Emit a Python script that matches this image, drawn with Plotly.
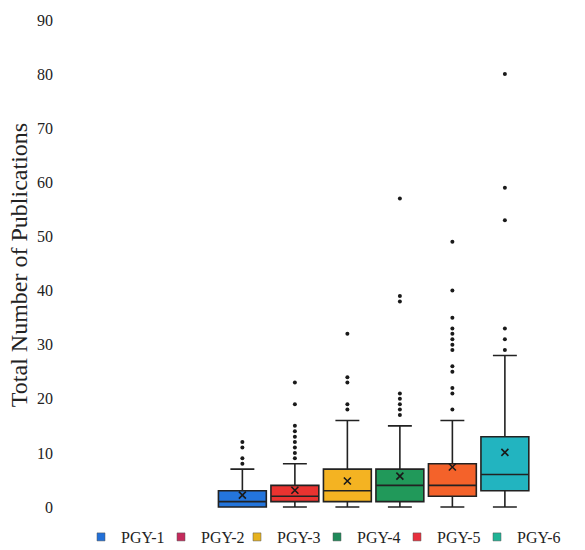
import plotly.graph_objects as go

groups = ["PGY-1", "PGY-2", "PGY-3", "PGY-4", "PGY-5", "PGY-6"]
q1 = [0, 1, 1, 1, 2, 3]
median = [1, 2, 3, 4, 4, 6]
q3 = [3, 4, 7, 7, 8, 13]
lower = [0, 0, 0, 0, 0, 0]
upper = [7, 8, 16, 15, 16, 28]
means = [2.2, 3.1, 4.8, 5.7, 7.4, 10.1]
outliers = [
    [8, 9, 11, 12],
    [9, 10, 11, 12, 13, 14, 15, 19, 23],
    [18, 19, 23, 24, 32],
    [17, 18, 19, 20, 21, 38, 39, 57],
    [18, 21, 22, 25, 26, 29, 30, 31, 32, 33, 35, 40, 49],
    [29, 31, 33, 53, 59, 80],
]
box_colors = ["#2475dc", "#ea3330", "#f4b322", "#21995a", "#f4622a", "#22b4c0"]
legend_colors = ["#2270d8", "#c42a5c", "#e6b21e", "#1f8a5a", "#e8303e", "#1fb496"]

SERIF = "Liberation Serif"
# left edge (px) of each legend entry along the bottom row
legend_left_px = [81, 161, 237, 317, 397, 477]

fig = go.Figure()
for i, g in enumerate(groups):
    fig.add_trace(go.Box(
        x=[g], q1=[q1[i]], median=[median[i]], q3=[q3[i]],
        lowerfence=[lower[i]], upperfence=[upper[i]],
        fillcolor=box_colors[i], line=dict(color="#222222", width=1.6),
        whiskerwidth=0.5, boxpoints=False, showlegend=False, name=g,
    ))
    fig.add_trace(go.Scatter(
        x=[g] * len(outliers[i]), y=outliers[i], mode="markers",
        marker=dict(color="#1a1a1a", size=4), showlegend=False, hoverinfo="y",
    ))
    fig.add_trace(go.Scatter(
        x=[g], y=[means[i]], mode="markers",
        marker=dict(symbol="x-thin", size=7, line=dict(color="#1a1a1a", width=1.6)),
        showlegend=False,
    ))

legend_layouts = {}
for i, g in enumerate(groups):
    lname = "legend" if i == 0 else f"legend{i + 1}"
    fig.add_trace(go.Scatter(
        x=[None], y=[None], mode="markers", name=g, legend=lname,
        marker=dict(symbol="square", size=8, color=legend_colors[i],
                    line=dict(color="#555555", width=0.5)),
    ))
    legend_layouts[lname] = dict(
        orientation="h", xref="container", x=legend_left_px[i] / 585, xanchor="left",
        yref="container", y=1 - 537 / 550, yanchor="middle",
        font=dict(family=SERIF, size=16, color="#222222"), itemwidth=30,
        bgcolor="rgba(0,0,0,0)", borderwidth=0,
    )

fig.update_layout(
    width=585, height=550,
    margin=dict(l=54, r=0, t=20, b=40),
    paper_bgcolor="white", plot_bgcolor="white",
    font=dict(family=SERIF, size=16, color="#222222"),
    boxgap=0.088, boxgroupgap=0,
    showlegend=True,
    xaxis=dict(type="category", categoryorder="array", categoryarray=groups,
               range=[-3.588, 6.526], showticklabels=False, showgrid=False,
               zeroline=False, showline=False, ticks=""),
    yaxis=dict(range=[-0.55, 90], tickvals=[0, 10, 20, 30, 40, 50, 60, 70, 80, 90],
               showgrid=False, zeroline=False, showline=False, ticks="",
               title=dict(text="Total Number of Publications",
                          font=dict(family=SERIF, size=24), standoff=2),
               tickfont=dict(family=SERIF, size=16)),
    **legend_layouts,
)
fig.write_html("out.html")
